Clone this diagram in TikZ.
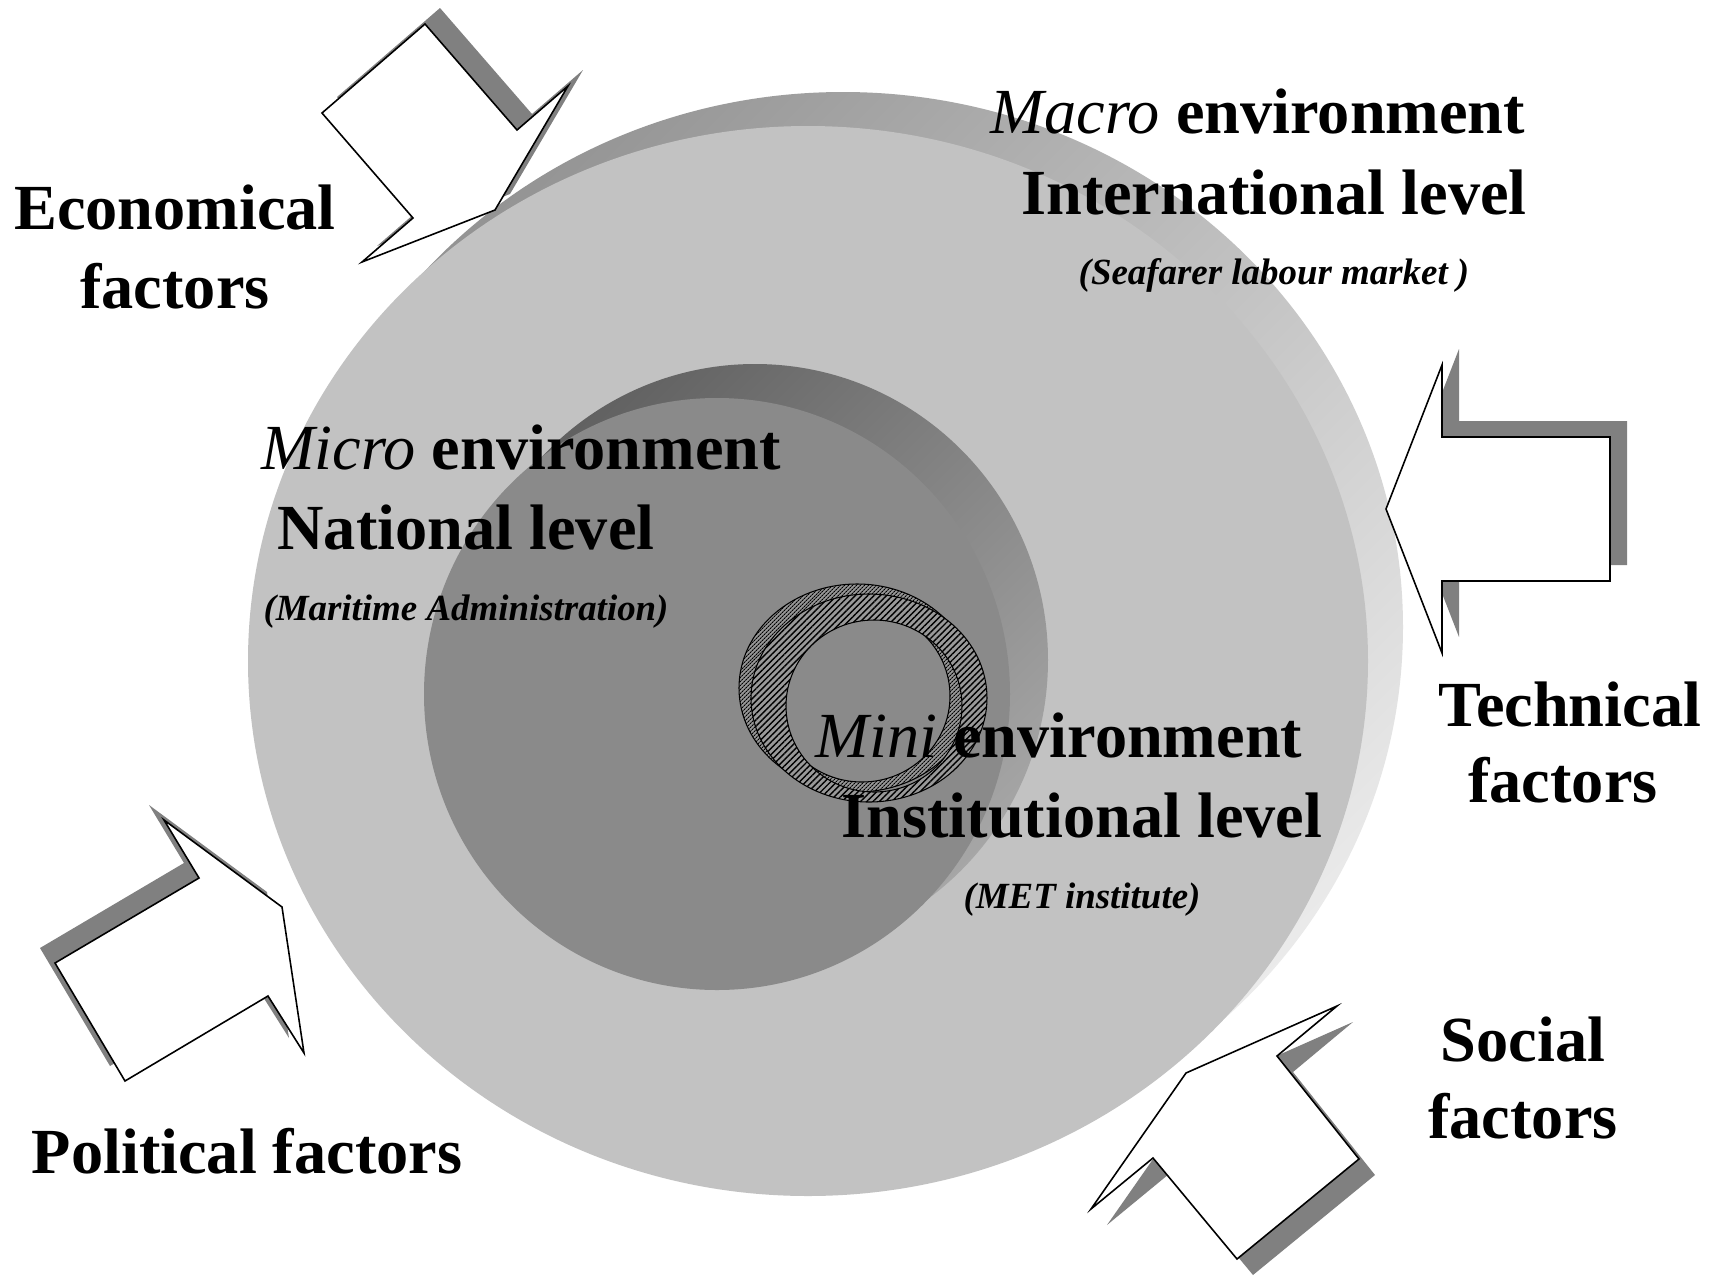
\documentclass[tikz,border=0pt]{standalone}
\usepackage{fontspec}
\setmainfont{Liberation Serif}
\usetikzlibrary{patterns.meta}

\newcommand\envword[1]{{\mdseries\itshape #1}}

\tikzset{
  bigtxt/.style={anchor=base, inner sep=0pt, font=\bfseries\fontsize{18.3}{22}\selectfont},
  subtxt/.style={anchor=base, inner sep=0pt, font=\bfseries\itshape\fontsize{10.5}{12}\selectfont},
  arrowbody/.style={draw=black, line width=0.45pt, fill=white, line join=miter},
  arrowshadow/.style={fill=black!50},
  econarrow/.style={insert path={(425,24) -- (322,113) -- (413,218) -- (362,262) -- (495,210) -- (568,86) -- (517,130) -- cycle}},
  techarrow/.style={insert path={(1442,365) -- (1442,437) -- (1610,437) -- (1610,581) -- (1442,581) -- (1442,653) -- (1386,509) -- cycle}},
  polarrow/.style={insert path={(55,963) -- (125,1081) -- (268,996) -- (304,1053) -- (282,907) -- (164,820) -- (199,878) -- cycle}},
  socarrow/.style={insert path={(1337,1006) -- (1277,1056) -- (1359,1159) -- (1237,1259) -- (1153,1158) -- (1091,1209) -- (1186,1073) -- cycle}},
  ringhatch/.style={even odd rule, draw=black, line width=0.3pt,
    preaction={fill=black!40, even odd rule},
    pattern={Lines[angle=45,distance=#1,line width=0.4pt]}, pattern color=black},
}

\begin{document}
\begin{tikzpicture}[x=0.1mm,y=-0.1mm]
\useasboundingbox (0,0) rectangle (1712,1277);
\fill[white] (0,0) rectangle (1712,1277);

% macro disc
\shade[top color=black!42, bottom color=black!8, shading angle=45]
  (843,627) ellipse [x radius=560, y radius=535];
\fill[black!24] (808,661) ellipse [x radius=560, y radius=535];

% micro disc
\shade[top color=black!62, bottom color=black!35, shading angle=45]
  (755,660) ellipse [x radius=293, y radius=296];
\fill[black!46] (717,694) ellipse [x radius=293, y radius=296];

% mini ring
\path[ringhatch=0.9pt] (857,688) ellipse [x radius=118, y radius=104]
  (862,696) ellipse [x radius=88, y radius=86];
\path[ringhatch=1.25pt] (869,698) ellipse [x radius=118, y radius=104]
  (874,706) ellipse [x radius=88, y radius=86];

% labels
\node[bigtxt] (macro1) at (1258,133) {\envword{Macro} environment};
\node[bigtxt] (macro2) at (1274,214) {International level};
\node[subtxt] (macro3) at (1274,284) {(Seafarer labour market )};

\node[bigtxt] (micro1) at (521,469) {\envword{Micro} environment};
\node[bigtxt] (micro2) at (466,549) {National level};
\node[subtxt] (micro3) at (466,620) {(Maritime Administration)};

\node[bigtxt] (mini1) at (1059,757) {\envword{Mini} environment};
\node[bigtxt] (mini2) at (1082,837) {Institutional level};
\node[subtxt] (mini3) at (1082,908) {(MET institute)};

\node[bigtxt] (econ1) at (175,229) {Economical};
\node[bigtxt] (econ2) at (175,308) {factors};
\node[bigtxt] (tech1) at (1570,726) {Technical};
\node[bigtxt] (tech2) at (1563,802) {factors};
\node[bigtxt] (soc1) at (1523,1061) {Social};
\node[bigtxt] (soc2) at (1523,1138) {factors};
\node[bigtxt] (pol1) at (247,1173) {Political factors};

% factor arrows
\fill[arrowshadow, shift={(15,-16)}, econarrow];
\path[arrowbody, econarrow];
\fill[arrowshadow, shift={(17,-16)}, techarrow];
\path[arrowbody, techarrow];
\fill[arrowshadow, shift={(-15,-15)}, polarrow];
\path[arrowbody, polarrow];
\fill[arrowshadow, shift={(16,16)}, socarrow];
\path[arrowbody, socarrow];
\end{tikzpicture}
\end{document}
